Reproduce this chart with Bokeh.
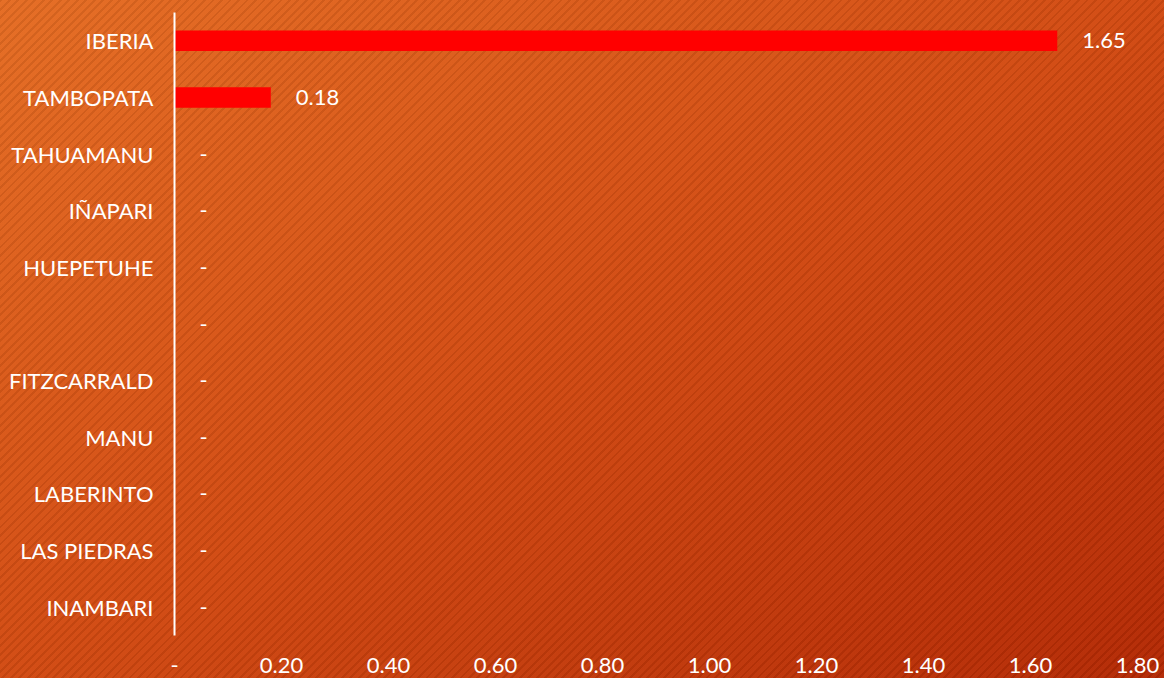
from bokeh.plotting import figure
from bokeh.models import ColumnDataSource, FactorRange, FixedTicker, LabelSet, GlobalInlineStyleSheet, Range1d
from bokeh.core.properties import value
from bokeh.embed import file_html
from bokeh.resources import INLINE

categories = ["IBERIA", "TAMBOPATA", "TAHUAMANU", "IÑAPARI", "HUEPETUHE", " ",
              "FITZCARRALD", "MANU", "LABERINTO", "LAS PIEDRAS", "INAMBARI"]
values = [1.65, 0.18, 0, 0, 0, 0, 0, 0, 0, 0, 0]
x_ticks = [0, 0.2, 0.4, 0.6, 0.8, 1.0, 1.2, 1.4, 1.6, 1.8]
x_tick_labels = ["-", "0.20", "0.40", "0.60", "0.80", "1.00", "1.20", "1.40", "1.60", "1.80"]

value_labels = [("%.2f" % v) if v != 0 else "-" for v in values]

source = ColumnDataSource(dict(categories=categories, values=values, labels=value_labels))

FONT = "Lato"

bg_css = GlobalInlineStyleSheet(css="""
html, body { margin: 0; padding: 0; overflow: hidden; }
html {
  background:
    repeating-linear-gradient(135deg, rgba(0,0,0,0.07) 0px, rgba(0,0,0,0.07) 2px, rgba(255,255,255,0.025) 2px, rgba(255,255,255,0.025) 6px),
    linear-gradient(to bottom right, #E56C22 0%, #D24A11 50%, #B32803 100%);
  background-attachment: fixed;
}
body { background: transparent; }
""")

p = figure(width=1164, height=678, output_backend="svg", toolbar_location=None,
           y_range=FactorRange(factors=list(reversed(categories))),
           x_range=Range1d(0, 1.8),
           min_border_left=174, min_border_right=27, min_border_top=12, min_border_bottom=43)
p.stylesheets = [bg_css]
p.background_fill_alpha = 0
p.border_fill_alpha = 0
p.outline_line_color = None
p.grid.visible = False

p.hbar(y="categories", right="values", left=0, height=0.36, source=source,
       fill_color="#FF0000", line_color=None)

labels = LabelSet(x="values", y="categories", text="labels", source=source,
                  x_offset=25, text_baseline="middle", text_align="left",
                  text_color="white", text_font=value(FONT), text_font_size="22px")
p.add_layout(labels)

xa = p.xaxis[0]
xa.ticker = FixedTicker(ticks=x_ticks)
xa.major_label_overrides = dict(zip(x_ticks, x_tick_labels))
xa.axis_line_color = None
xa.major_tick_line_color = None
xa.minor_tick_line_color = None
xa.major_tick_out = 0
xa.major_tick_in = 0
xa.major_label_standoff = 22
xa.major_label_text_color = "white"
xa.major_label_text_font = FONT
xa.major_label_text_font_size = "22px"

ya = p.yaxis[0]
ya.axis_line_color = "white"
ya.axis_line_width = 2
ya.major_tick_line_color = None
ya.minor_tick_line_color = None
ya.major_tick_out = 0
ya.major_tick_in = 0
ya.major_label_standoff = 21
ya.major_label_text_color = "white"
ya.major_label_text_font = FONT
ya.major_label_text_font_size = "22px"

open("out.html", "w").write(file_html(p, INLINE))
